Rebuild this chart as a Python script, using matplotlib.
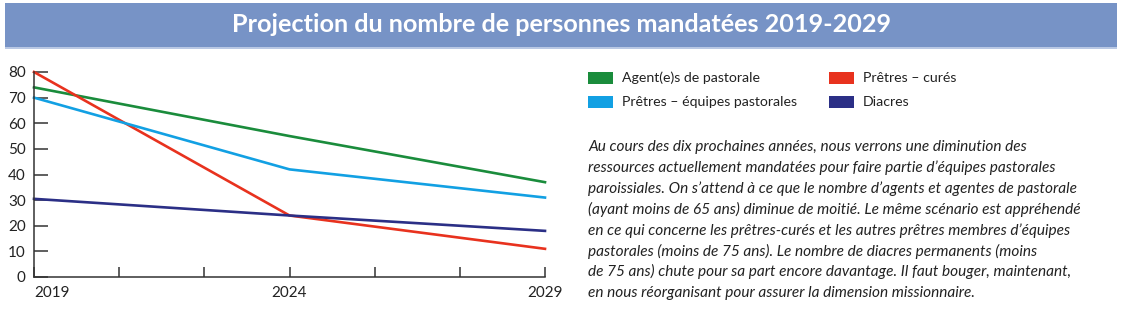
import matplotlib
matplotlib.use("Agg")
import matplotlib.pyplot as plt
from matplotlib.patches import Rectangle

years = [2019, 2024, 2029]
agents = [74, 55, 37]
pretres_equipes = [70, 42, 31]
pretres_cures = [80, 24, 11]
diacres = [30.5, 24, 18]

series_names = ["Agent(e)s de pastorale", "Prêtres – curés",
                "Prêtres – équipes pastorales", "Diacres"]
colors = {"Agent(e)s de pastorale": "#1a8c3c",
          "Prêtres – curés": "#e8321e",
          "Prêtres – équipes pastorales": "#12a0e3",
          "Diacres": "#2b2f86"}
series = {"Agent(e)s de pastorale": agents,
          "Prêtres – curés": pretres_cures,
          "Prêtres – équipes pastorales": pretres_equipes,
          "Diacres": diacres}

yticks = [0, 10, 20, 30, 40, 50, 60, 70, 80]
xtick_labels = ["2019", "2024", "2029"]

title = "Projection du nombre de personnes mandatées 2019-2029"
paragraph = [
    "Au cours des dix prochaines années, nous verrons une diminution des",
    "ressources actuellement mandatées pour faire partie d\u2019équipes pastorales",
    "paroissiales. On s\u2019attend à ce que le nombre d\u2019agents et agentes de pastorale",
    "(ayant moins de 65 ans) diminue de moitié. Le même scénario est appréhendé",
    "en ce qui concerne les prêtres-curés et les autres prêtres membres d\u2019équipes",
    "pastorales (moins de 75 ans). Le nombre de diacres permanents (moins",
    "de 75 ans) chute pour sa part encore davantage. Il faut bouger, maintenant,",
    "en nous réorganisant pour assurer la dimension missionnaire.",
]

W, H = 1122, 326
fig = plt.figure(figsize=(W / 100, H / 100), dpi=100)
fig.patch.set_facecolor("white")

def fx(px):
    return px / W

def fy(py):
    return 1 - py / H

# Title bar
fig.patches.append(Rectangle((fx(5), fy(47)), fx(1112), 44 / H, transform=fig.transFigure,
                             facecolor="#7793c6", edgecolor="none"))
fig.patches.append(Rectangle((fx(5), fy(48.5)), fx(1112), 1.5 / H, transform=fig.transFigure,
                             facecolor="#b9c8e4", edgecolor="none"))
fig.text(fx(561), fy(24), title, color="white", fontsize=18.2, fontweight="bold",
         family=["Lato", "DejaVu Sans"], ha="center", va="center")

# Axes
ax = fig.add_axes([fx(34), fy(277), fx(545 - 34), (277 - 72) / H])
for name in series_names:
    ax.plot(years, series[name], color=colors[name], lw=1.9, clip_on=False,
            solid_joinstyle="round")
ax.set_xlim(2019, 2029)
ax.set_ylim(0, 80)
for s in ["top", "right"]:
    ax.spines[s].set_visible(False)
for s in ["left", "bottom"]:
    ax.spines[s].set_color("#333333")
    ax.spines[s].set_linewidth(1.1)
ax.set_yticks(yticks)
ax.set_yticklabels([str(v) for v in yticks])
minor = [2019 + 10 * i / 6 for i in range(7)]
ax.set_xticks(minor)
ax.set_xticklabels([""] * len(minor))
ax.tick_params(axis="y", direction="in", length=10, width=1.1, color="#333333",
               labelsize=11, labelcolor="#222222", pad=6)
ax.tick_params(axis="x", direction="in", length=7, width=1.1, color="#333333")
for lab, yr in zip(xtick_labels, years):
    ha = "left" if yr == 2019 else "center"
    ax.text(yr, -3.5, lab, ha=ha, va="top", fontsize=11, color="#222222",
            transform=ax.transData, family=["Lato", "DejaVu Sans"])
for t in ax.get_yticklabels():
    t.set_family(["Lato", "DejaVu Sans"])

# Legend
legend_pos = {"Agent(e)s de pastorale": (588, 78),
              "Prêtres – équipes pastorales": (588, 101.5),
              "Prêtres – curés": (829, 78),
              "Diacres": (829, 101.5)}
for name in series_names:
    x0, yc = legend_pos[name]
    fig.patches.append(Rectangle((fx(x0), fy(yc + 6)), fx(25), 12 / H,
                                 transform=fig.transFigure, facecolor=colors[name],
                                 edgecolor="none"))
    fig.text(fx(x0 + 34), fy(yc), name, fontsize=10.2, color="#222222",
             va="center", ha="left", family=["Lato", "DejaVu Sans"])

# Paragraph
for i, line in enumerate(paragraph):
    fig.text(fx(588), fy(147 + i * 20.8), line, fontsize=11.1, style="italic",
             color="#222222", va="center", ha="left", family=["Lato", "DejaVu Sans"])

fig.savefig("out.png", dpi=100)
